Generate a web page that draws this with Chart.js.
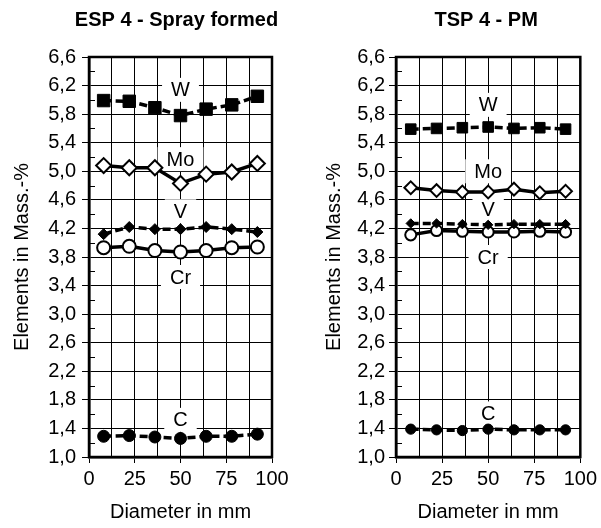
<!DOCTYPE html>
<html><head><meta charset="utf-8">
<script src="https://cdn.jsdelivr.net/npm/chart.js@4/dist/chart.umd.min.js"></script>
<style>
html,body{margin:0;padding:0;background:#fff;}
#wrap{position:relative;width:601px;height:528px;background:#fff;}
canvas{position:absolute;top:0;}
</style></head><body>
<div id="wrap">
<canvas id="c1" width="300" height="528" style="left:0"></canvas>
<canvas id="c2" width="301" height="528" style="left:300px"></canvas>
</div>
<script>
// ---- data ----
const diameters = [8, 22, 36, 50, 64, 78, 92];
const elementNames = ['W', 'Mo', 'V', 'Cr', 'C'];
const yTickLabels = ['1,0','1,4','1,8','2,2','2,6','3,0','3,4','3,8','4,2','4,6','5,0','5,4','5,8','6,2','6,6'];
const xTickLabels = ['0','25','50','75','100'];
const panelTitles = ['ESP 4 - Spray formed', 'TSP 4 - PM'];

const espW  = [5.99, 5.98, 5.89, 5.78, 5.87, 5.93, 6.05];
const espMo = [5.08, 5.05, 5.05, 4.83, 4.96, 4.99, 5.11];
const espV  = [4.12, 4.22, 4.19, 4.19, 4.22, 4.19, 4.15];
const espCr = [3.93, 3.95, 3.89, 3.87, 3.89, 3.93, 3.94];
const espC  = [1.29, 1.30, 1.28, 1.26, 1.29, 1.29, 1.32];

const tspW  = [5.59, 5.60, 5.61, 5.62, 5.60, 5.61, 5.59];
const tspMo = [4.77, 4.73, 4.71, 4.71, 4.75, 4.70, 4.72];
const tspV  = [4.27, 4.27, 4.26, 4.25, 4.26, 4.26, 4.26];
const tspCr = [4.11, 4.17, 4.16, 4.15, 4.15, 4.16, 4.15];
const tspC  = [1.39, 1.38, 1.37, 1.39, 1.38, 1.38, 1.38];

// label anchor values (data units) for element names
const espLabelY = [6.14, 5.17, 4.44, 3.52, 1.52];
const tspLabelY = [5.93, 5.00, 4.46, 3.80, 1.61];
const labelX = 50;

const FONT = '"Liberation Sans", Arial, sans-serif';

function pts(vals){ return diameters.map((x,i)=>({x:x, y:vals[i]})); }

function makeDatasets(series, big){
  const s = big ? 1 : 0.85;
  return [
    {label:'W', data:pts(series[0]), pointStyle:'rect', pointRadius:8.8*s, pointBackgroundColor:'#000', pointBorderColor:'#000', pointBorderWidth:1, borderColor:'#000', borderWidth:3.5, borderDash:[8,4]},
    {label:'Mo', data:pts(series[1]), pointStyle:'rectRot', pointRadius:7.5*s, pointBackgroundColor:'#fff', pointBorderColor:'#000', pointBorderWidth:2, borderColor:'#000', borderWidth:3.5},
    {label:'V', data:pts(series[2]), pointStyle:'rectRot', pointRadius:5.5*s, pointBackgroundColor:'#000', pointBorderColor:'#000', pointBorderWidth:1, borderColor:'#000', borderWidth:3.5, borderDash:[8,4]},
    {label:'Cr', data:pts(series[3]), pointStyle:'circle', pointRadius:6.5*s, pointBackgroundColor:'#fff', pointBorderColor:'#000', pointBorderWidth:2, borderColor:'#000', borderWidth:3.5},
    {label:'C', data:pts(series[4]), pointStyle:'circle', pointRadius:6*s, pointBackgroundColor:'#000', pointBorderColor:'#000', pointBorderWidth:1, borderColor:'#000', borderWidth:3.5, borderDash:[8,4]}
  ].map(d=>Object.assign(d,{tension:0, fill:false, clip:false}));
}

const decorPlugin = {
  id:'decor',
  beforeDatasetsDraw(chart, args, opts){
    const {ctx, chartArea:a, scales:{x, y}} = chart;
    ctx.save();
    ctx.strokeStyle = '#000'; ctx.lineWidth = 1;
    ctx.beginPath();
    y.ticks.forEach((t,i)=>{
      if (i % 2 === 1){
        const py = Math.round(y.getPixelForValue(t.value)) + 0.5;
        ctx.moveTo(a.left, py); ctx.lineTo(a.left + 6, py);
      }
    });
    ctx.stroke();
    ctx.font = '20px ' + FONT;
    ctx.textAlign = 'center'; ctx.textBaseline = 'middle';
    elementNames.forEach((name,i)=>{
      const px = x.getPixelForValue(labelX);
      const py = y.getPixelForValue(opts.labelY[i]);
      const w = ctx.measureText(name).width + 18;
      ctx.fillStyle = '#fff';
      ctx.fillRect(px - w/2, py - 12, w, 24);
      ctx.fillStyle = '#000';
      ctx.fillText(name, px, py + 1);
    });
    ctx.lineWidth = 2.5;
    ctx.strokeRect(a.left, a.top, a.right - a.left, a.bottom - a.top);
    ctx.restore();
  },
  afterDraw(chart, args, opts){
    const {ctx, chartArea:a} = chart;
    ctx.save();
    ctx.font = 'bold 20px ' + FONT;
    ctx.fillStyle = '#000';
    ctx.textAlign = 'center'; ctx.textBaseline = 'middle';
    ctx.fillText(opts.title, (a.left + a.right)/2 + opts.titleShift, 20);
    ctx.restore();
  }
};

function makeChart(id, series, labelY, title, cfg){
  return new Chart(document.getElementById(id), {
    type:'line',
    data:{datasets:makeDatasets(series, cfg.big)},
    plugins:[decorPlugin],
    options:{
      responsive:false, animation:false, devicePixelRatio:1,
      layout:{padding:{top:cfg.top, right:cfg.right, left:0, bottom:0}},
      plugins:{legend:{display:false}, tooltip:{enabled:false}, title:{display:false},
        decor:{labelY:labelY, title:title, titleShift:cfg.tshift}},
      scales:{
        x:{type:'linear', min:0, max:100,
          ticks:{stepSize:12.5, autoSkip:false, maxRotation:0, color:'#000', padding:4,
            font:{family:FONT, size:20},
            callback:(v)=> (v % 25 === 0 ? xTickLabels[v/25] : '')},
          grid:{color:'#000', lineWidth:1, tickLength:6,
            tickColor:(c)=> (c.tick && c.tick.value % 25 === 0 ? '#000' : 'rgba(0,0,0,0)')},
          border:{color:'#000', width:2.5},
          title:{display:true, text:'Diameter in mm', color:'#000', font:{family:FONT, size:20}, padding:{top:2,bottom:4}},
          afterFit:(s)=>{ s.height = cfg.xh; }
        },
        y:{type:'linear', min:1, max:6.6,
          ticks:{stepSize:0.2, autoSkip:false, color:'#000', padding:cfg.ypad,
            font:{family:FONT, size:20},
            callback:(v,i)=> (i % 2 === 0 ? yTickLabels[i/2] : '')},
          grid:{color:(c)=> (c.index % 2 === 0 ? '#000' : 'rgba(0,0,0,0)'), lineWidth:1, tickLength:7,
            tickColor:(c)=> (c.index % 2 === 0 ? '#000' : 'rgba(0,0,0,0)')},
          border:{color:'#000', width:2.5},
          title:{display:true, text:'Elements in Mass.-%', color:'#000', font:{family:FONT, size:20}, padding:{top:cfg.ytpad, bottom:0}},
          afterFit:(s)=>{ s.width = cfg.yw; }
        }
      }
    }
  });
}

makeChart('c1', [espW, espMo, espV, espCr, espC], espLabelY, panelTitles[0],
  {big:true, top:57, right:28, xh:71, yw:89, ypad:6, ytpad:10, tshift:-4});
makeChart('c2', [tspW, tspMo, tspV, tspCr, tspC], tspLabelY, panelTitles[1],
  {big:false, top:57, right:20, xh:71, yw:96, ypad:4, ytpad:22, tshift:-2});
</script>
</body></html>
